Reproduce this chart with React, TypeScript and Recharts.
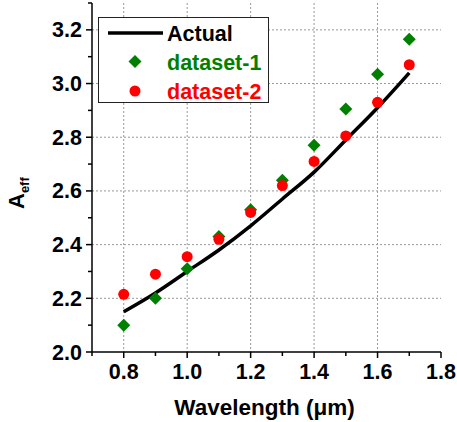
import React from 'react'
import {
  CartesianGrid,
  ComposedChart,
  Legend,
  Line,
  Scatter,
  XAxis,
  YAxis
} from 'recharts'

const wavelengths = [0.8, 0.9, 1.0, 1.1, 1.2, 1.3, 1.4, 1.5, 1.6, 1.7]
const actual = [2.15, 2.22, 2.3, 2.38, 2.47, 2.57, 2.67, 2.79, 2.91, 3.04]
const dataset1 = [2.1, 2.2, 2.31, 2.43, 2.53, 2.64, 2.77, 2.905, 3.035, 3.165]
const dataset2 = [2.215, 2.29, 2.355, 2.42, 2.52, 2.62, 2.71, 2.805, 2.93, 3.07]

const xTicks = [0.7, 0.8, 0.9, 1.0, 1.1, 1.2, 1.3, 1.4, 1.5, 1.6, 1.7, 1.8]
const yTicks = [2.0, 2.1, 2.2, 2.3, 2.4, 2.5, 2.6, 2.7, 2.8, 2.9, 3.0, 3.1, 3.2, 3.3]
const xGrid = [0.8, 1.0, 1.2, 1.4, 1.6]
const yGrid = [2.2, 2.4, 2.6, 2.8, 3.0, 3.2]

const actualData = wavelengths.map((x, i) => ({ x, y: actual[i] }))
const d1Data = wavelengths.map((x, i) => ({ x, y: dataset1[i] }))
const d2Data = wavelengths.map((x, i) => ({ x, y: dataset2[i] }))

const FONT = 'Liberation Sans, Arial, sans-serif'
const GREEN = '#008000'
const RED = '#ff0000'

const isMajor = (v: number) => Math.round(v * 10) % 2 === 0

const XTick = (props: any) => {
  const { x, y, payload } = props
  const major = isMajor(payload.value)
  const lbl = major && payload.value > 0.75
  return (
    <g>
      <line x1={x} x2={x} y1={y} y2={y + (major ? 6 : 4)} stroke="#000" strokeWidth={1.5} />
      {lbl && (
        <text x={x} y={y + 27} textAnchor="middle" fontFamily={FONT} fontWeight="bold" fontSize={21.5} fill="#000">
          {payload.value.toFixed(1)}
        </text>
      )}
    </g>
  )
}

const YTick = (props: any) => {
  const { x, y, payload } = props
  const major = isMajor(payload.value)
  const lbl = major && payload.value < 3.25
  return (
    <g>
      <line x1={x - (major ? 6 : 4)} x2={x} y1={y} y2={y} stroke="#000" strokeWidth={1.5} />
      {lbl && (
        <text x={x - 10} y={y + 7.5} textAnchor="end" fontFamily={FONT} fontWeight="bold" fontSize={21.5} fill="#000">
          {payload.value.toFixed(1)}
        </text>
      )}
    </g>
  )
}

const Diamond = (props: any) => {
  const { cx, cy } = props
  const r = 6.5
  return <polygon points={`${cx},${cy - r} ${cx + r},${cy} ${cx},${cy + r} ${cx - r},${cy}`} fill={GREEN} />
}

const Dot = (props: any) => {
  const { cx, cy } = props
  return <circle cx={cx} cy={cy} r={5.5} fill={RED} />
}

const LegendBox = () => (
  <div
    style={{
      width: 169,
      height: 84,
      border: '1.5px solid #222',
      background: '#fff',
      position: 'relative'
    }}
  >
    <svg width={169} height={84} style={{ position: 'absolute', left: 0, top: 0 }}>
      <line x1={9} x2={64} y1={15} y2={15} stroke="#000" strokeWidth={3.5} />
      <polygon points="36,37 42.5,43.5 36,50 29.5,43.5" fill={GREEN} />
      <circle cx={36} cy={73} r={5.5} fill={RED} />
      <text x={68} y={22.5} fill="#000" fontFamily={FONT} fontWeight="bold" fontSize={21.5}>Actual</text>
      <text x={68} y={51.5} fill={GREEN} fontFamily={FONT} fontWeight="bold" fontSize={21.5}>dataset-1</text>
      <text x={68} y={80.5} fill={RED} fontFamily={FONT} fontWeight="bold" fontSize={21.5}>dataset-2</text>
    </svg>
  </div>
)

const XLabel = (props: any) => {
  const { viewBox } = props
  return (
    <text
      x={viewBox.x + viewBox.width / 2 - 2}
      y={viewBox.y + 63}
      textAnchor="middle"
      fontFamily={FONT}
      fontWeight="bold"
      fontSize={22.5}
      fill="#000"
    >
      Wavelength (μm)
    </text>
  )
}

const YLabel = () => (
  <text transform="translate(24, 209) rotate(-90)" fontFamily={FONT} fontWeight="bold" fill="#000">
    <tspan fontSize={22}>A</tspan>
    <tspan fontSize={13} dy={5}>eff</tspan>
  </text>
)

export default function App() {
  return (
    <div style={{ position: 'absolute', left: 0, top: 0 }}>
      <ComposedChart width={457} height={422} margin={{ top: 3, right: 16, bottom: 0, left: 0 }}>
        <CartesianGrid
          stroke="#999"
          strokeDasharray="2 2"
          horizontalValues={yGrid}
          verticalValues={xGrid}
        />
        <XAxis
          type="number"
          dataKey="x"
          domain={[0.7, 1.8]}
          ticks={xTicks}
          interval={0}
          tickSize={0}
          tickMargin={0}
          tickLine={false}
          tick={<XTick />}
          height={70}
          stroke="#000"
          strokeWidth={1.5}
          allowDataOverflow
          label={<XLabel />}
        />
        <YAxis
          type="number"
          dataKey="y"
          domain={[2.0, 3.3]}
          ticks={yTicks}
          interval={0}
          tickSize={0}
          tickMargin={0}
          tickLine={false}
          tick={<YTick />}
          width={92}
          stroke="#000"
          strokeWidth={1.5}
          allowDataOverflow
          label={<YLabel />}
        />
        <Legend
          layout="horizontal"
          verticalAlign="middle"
          align="center"
          wrapperStyle={{ left: 98, top: 17, width: 172 }}
          content={<LegendBox />}
        />
        <Line
          data={actualData}
          dataKey="y"
          type="monotone"
          stroke="#000"
          strokeWidth={3.5}
          dot={false}
          isAnimationActive={false}
          legendType="none"
        />
        <Scatter data={d1Data} dataKey="y" shape={<Diamond />} isAnimationActive={false} />
        <Scatter data={d2Data} dataKey="y" shape={<Dot />} isAnimationActive={false} />
      </ComposedChart>
    </div>
  )
}
